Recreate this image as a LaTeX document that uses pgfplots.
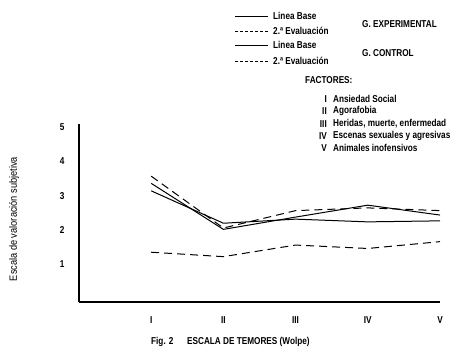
\documentclass[border=0pt]{standalone}
\usepackage{fontspec}
\setmainfont{Liberation Sans}[FakeStretch=0.82]
\newfontfamily\lightfont{Liberation Sans}[FakeStretch=0.88]
\usepackage{pgfplots}
\pgfplotsset{compat=1.18}
\begin{document}
\begin{tikzpicture}[x=1pt,y=1pt,font=\fontsize{10}{12}\selectfont\bfseries]
\useasboundingbox (0,0) rectangle (458,-354);
\begin{axis}[
  at={(79pt,-302pt)}, anchor=south west,
  scale only axis, width=361pt, height=178pt,
  xmin=0, xmax=5, ymin=-0.12, ymax=5.1,
  axis x line=bottom, axis y line=left,
  x axis line style={-}, y axis line style={-},
  axis line style={line width=1.3pt},
  xtick={1,2,3,4,5}, xticklabels={I,II,III,IV,V},
  ytick={1,2,3,4,5},
  major tick length=0pt,
  /pgf/number format/assume math mode=true,
  yticklabel style={xshift=-11pt},
  xticklabel style={yshift=-11pt},
  tick label style={font=\fontsize{10}{12}\selectfont\bfseries},
]
% G. experimental
\addplot[black, line width=1pt] coordinates {(1,3.36) (2,2.01) (3,2.37) (4,2.72) (5,2.43)};
\addplot[black, line width=1pt, dash pattern=on 8pt off 5pt] coordinates {(1,3.57) (2,2.05) (3,2.56) (4,2.64) (5,2.56)};
% G. control
\addplot[black, line width=1pt] coordinates {(1,3.14) (2,2.19) (3,2.31) (4,2.23) (5,2.26)};
\addplot[black, line width=1pt, dash pattern=on 8pt off 5pt] coordinates {(1,1.34) (2,1.21) (3,1.55) (4,1.45) (5,1.65)};
\end{axis}
% legend
\draw[line width=0.8pt] (235,-16) -- (268,-16);
\draw[line width=0.8pt, dash pattern=on 3pt off 2pt] (235,-31) -- (268,-31);
\draw[line width=0.8pt] (235,-45) -- (268,-45);
\draw[line width=0.8pt, dash pattern=on 3pt off 2pt] (235,-61) -- (268,-61);
\node[anchor=west, inner sep=0pt] at (273,-16) {Linea Base};
\node[anchor=west, inner sep=0pt] at (273,-31) {2.ª Evaluación};
\node[anchor=west, inner sep=0pt] at (273,-45) {Linea Base};
\node[anchor=west, inner sep=0pt] at (273,-61) {2.ª Evaluación};
\node[anchor=west, inner sep=0pt] at (362,-24) {G. EXPERIMENTAL};
\node[anchor=west, inner sep=0pt] at (362,-53) {G. CONTROL};
\node[anchor=west, inner sep=0pt] at (305,-80) {FACTORES:};
\foreach \n/\t/\y in {I/Ansiedad Social/99, II/Agorafobia/111, III/{Heridas, muerte, enfermedad}/124, IV/Escenas sexuales y agresivas/136, V/Animales inofensivos/148}{
  \node[anchor=east, inner sep=0pt] at (327,-\y) {\n};
  \node[anchor=west, inner sep=0pt] at (333,-\y) {\t};
}
% y label
\node[rotate=90, inner sep=0pt] at (14,-219) {\lightfont\mdseries\fontsize{10.5}{12}\selectfont Escala de valoración subjetiva};
% caption
\node[anchor=west, inner sep=0pt] at (151,-342) {Fig. 2};
\node[anchor=west, inner sep=0pt] at (187,-342) {ESCALA DE TEMORES (Wolpe)};
\end{tikzpicture}
\end{document}
